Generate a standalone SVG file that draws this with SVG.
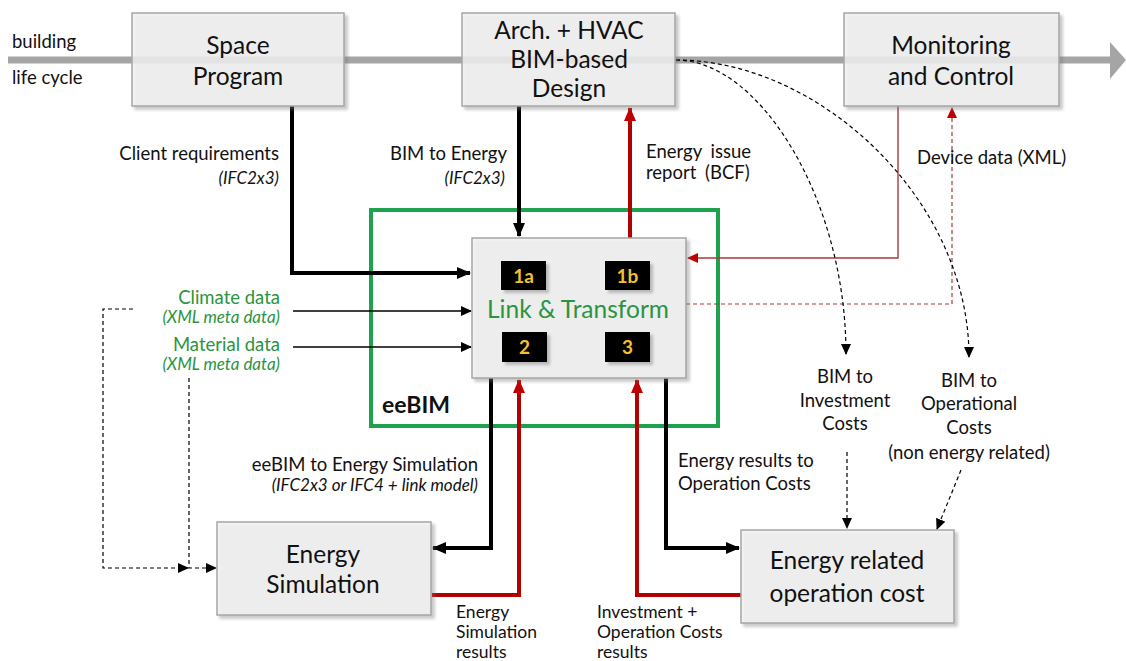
<svg xmlns="http://www.w3.org/2000/svg" width="1126" height="661" viewBox="0 0 1126 661">
<defs>
<filter id="sh" x="-10%" y="-10%" width="125%" height="130%">
<feDropShadow dx="3" dy="3" stdDeviation="1.5" flood-color="#777" flood-opacity="0.45"/>
</filter>
<marker id="aBk" markerUnits="userSpaceOnUse" markerWidth="14" markerHeight="12" refX="13" refY="6" orient="auto"><path d="M0,0 L14,6 L0,12 Z" fill="#000"/></marker>
<marker id="aRd" markerUnits="userSpaceOnUse" markerWidth="14" markerHeight="12" refX="13" refY="6" orient="auto"><path d="M0,0 L14,6 L0,12 Z" fill="#c00000"/></marker>
<marker id="aBkS" markerUnits="userSpaceOnUse" markerWidth="11" markerHeight="10" refX="10" refY="5" orient="auto"><path d="M0,0 L11,5 L0,10 Z" fill="#000"/></marker>
<marker id="aRdS" markerUnits="userSpaceOnUse" markerWidth="11" markerHeight="10" refX="10" refY="5" orient="auto"><path d="M0,0 L11,5 L0,10 Z" fill="#c00000"/></marker>
</defs>
<style>
.box{fill:#f2f2f2;fill-opacity:0.82;stroke:#a6a6a6;stroke-width:1.5;filter:url(#sh)}
.t{font-family:Lato,"Open Sans",sans-serif;fill:#111}
.big{font-size:24.5px}
.lab{font-size:18.5px}
.sm{font-size:17.5px}
.it{font-size:17px;font-style:italic}
.g{fill:#2a9440}
.thk{fill:none;stroke:#000;stroke-width:4}
.thr{fill:none;stroke:#b30000;stroke-width:4}
.thn{fill:none;stroke:#000;stroke-width:1.4}
.tnr{fill:none;stroke:#a83a3a;stroke-width:1.4}
.dsh{fill:none;stroke:#000;stroke-width:1.2;stroke-dasharray:4,3}
.dsr{fill:none;stroke:#a83a3a;stroke-width:1.2;stroke-dasharray:4,3}
.badge{fill:#000;filter:url(#sh)}
.bt{font-family:Lato,"Open Sans",sans-serif;font-size:19px;font-weight:bold;fill:#f2c12e}
</style>
<rect width="1126" height="661" fill="#fff"/>

<g id="lifecycle">
<line x1="8" y1="60" x2="1112" y2="60" stroke="#a5a5a5" stroke-width="7"/>
<path d="M1110,42 L1126,60 L1110,79 Z" fill="#a5a5a5"/>
<text class="t lab" x="12" y="48">building</text>
<text class="t lab" x="12" y="84">life cycle</text>
</g>

<g id="eebim">
<rect x="371" y="210" width="347" height="216" fill="none" stroke="#1fa14e" stroke-width="4"/>
<text class="t" x="382" y="413" font-size="23" font-weight="bold" fill="#1f9040">eeBIM</text>
</g>

<g id="connectors">
<path class="thk" d="M292,106 V273 H470" marker-end="url(#aBk)"/>
<path class="thk" d="M519,106 V236" marker-end="url(#aBk)"/>
<path class="thr" d="M630,238 V108" marker-end="url(#aRd)"/>
<path class="tnr" d="M898,106 V258 H688" marker-end="url(#aRdS)"/>
<path class="dsr" d="M686,304 H952 V108" marker-end="url(#aRdS)"/>
<path class="thn" d="M293,311 H471" marker-end="url(#aBkS)"/>
<path class="thn" d="M293,347 H471" marker-end="url(#aBkS)"/>
<path class="thk" d="M491,378 V548 H433" marker-end="url(#aBk)"/>
<path class="thr" d="M432,595 H519 V380" marker-end="url(#aRd)"/>
<path class="thr" d="M741,595 H637 V380" marker-end="url(#aRd)"/>
<path class="thk" d="M666,378 V548 H739" marker-end="url(#aBk)"/>
<path class="dsh" d="M676,60 C760,60 846,200 846,354" marker-end="url(#aBkS)"/>
<path class="dsh" d="M676,60 C820,60 969,200 969,357" marker-end="url(#aBkS)"/>
<path class="dsh" d="M847,452 V528" marker-end="url(#aBkS)"/>
<path class="dsh" d="M961,470 L937,529" marker-end="url(#aBkS)"/>
<path class="dsh" d="M133,309 H103 V568 H188" marker-end="url(#aBkS)"/>
<path class="dsh" d="M189,378 V568 H216" marker-end="url(#aBkS)"/>
</g>

<g id="space">
<rect class="box" x="132" y="13" width="212" height="93"/>
<text class="t big" text-anchor="middle"><tspan x="238" y="54">Space</tspan><tspan x="238" y="85">Program</tspan></text>
</g>

<g id="arch">
<rect class="box" x="462" y="13" width="213" height="93"/>
<text class="t big" text-anchor="middle"><tspan x="569" y="39">Arch. + HVAC</tspan><tspan x="569" y="68">BIM-based</tspan><tspan x="569" y="97">Design</tspan></text>
</g>

<g id="monitoring">
<rect class="box" x="844" y="13" width="215" height="93"/>
<text class="t big" text-anchor="middle"><tspan x="951" y="54">Monitoring</tspan><tspan x="951" y="85">and Control</tspan></text>
</g>

<g id="link">
<rect class="box" x="472" y="238" width="214" height="140"/>
<rect class="badge" x="501" y="261" width="45" height="29"/>
<rect class="badge" x="605" y="261" width="45" height="29"/>
<rect class="badge" x="502" y="332" width="45" height="30"/>
<rect class="badge" x="605" y="332" width="45" height="30"/>
<text class="bt" x="523.5" y="283" text-anchor="middle">1a</text>
<text class="bt" x="627.5" y="283" text-anchor="middle">1b</text>
<text class="bt" x="524.5" y="354" text-anchor="middle">2</text>
<text class="bt" x="627.5" y="354" text-anchor="middle">3</text>
<text class="t g" x="578" y="318" text-anchor="middle" font-size="24.5">Link &amp; Transform</text>
</g>

<g id="energysim">
<rect class="box" x="217" y="522" width="214" height="93"/>
<text class="t big" text-anchor="middle"><tspan x="323" y="563">Energy</tspan><tspan x="323" y="593">Simulation</tspan></text>
</g>

<g id="energycost">
<rect class="box" x="741" y="530" width="213" height="93"/>
<text class="t big" text-anchor="middle"><tspan x="847" y="569">Energy related</tspan><tspan x="847" y="602">operation cost</tspan></text>
</g>

<g id="labels">
<text class="t" text-anchor="end"><tspan class="lab" x="279" y="160">Client requirements</tspan><tspan class="it" x="279" y="184">(IFC2x3)</tspan></text>
<text class="t" text-anchor="end"><tspan class="lab" x="507" y="160">BIM to Energy</tspan><tspan class="it" x="505" y="184">(IFC2x3)</tspan></text>
<text class="t lab" word-spacing="4"><tspan x="646" y="158">Energy issue</tspan><tspan x="646" y="179">report (BCF)</tspan></text>
<text class="t lab" x="917" y="164" fill="#a84848">Device data (XML)</text>
<text class="t g" text-anchor="end"><tspan class="lab" x="280" y="304">Climate data</tspan><tspan class="it" x="280" y="323">(XML meta data)</tspan></text>
<text class="t g" text-anchor="end"><tspan class="lab" x="280" y="351">Material data</tspan><tspan class="it" x="280" y="370">(XML meta data)</tspan></text>
<text class="t lab" text-anchor="middle"><tspan x="845" y="383">BIM to</tspan><tspan x="845" y="407">Investment</tspan><tspan x="845" y="430">Costs</tspan></text>
<text class="t lab" text-anchor="middle"><tspan x="969" y="387">BIM to</tspan><tspan x="969" y="410">Operational</tspan><tspan x="969" y="434">Costs</tspan><tspan x="969" y="459">(non energy related)</tspan></text>
<text class="t" text-anchor="end"><tspan class="lab" x="478" y="471">eeBIM to Energy Simulation</tspan><tspan class="it" x="478" y="491">(IFC2x3 or IFC4 + link model)</tspan></text>
<text class="t lab"><tspan x="678" y="467">Energy results to</tspan><tspan x="678" y="490">Operation Costs</tspan></text>
<text class="t sm"><tspan x="456" y="618">Energy</tspan><tspan x="456" y="638">Simulation</tspan><tspan x="456" y="658">results</tspan></text>
<text class="t sm"><tspan x="597" y="618">Investment +</tspan><tspan x="597" y="638">Operation Costs</tspan><tspan x="597" y="658">results</tspan></text>
</g>
</svg>
